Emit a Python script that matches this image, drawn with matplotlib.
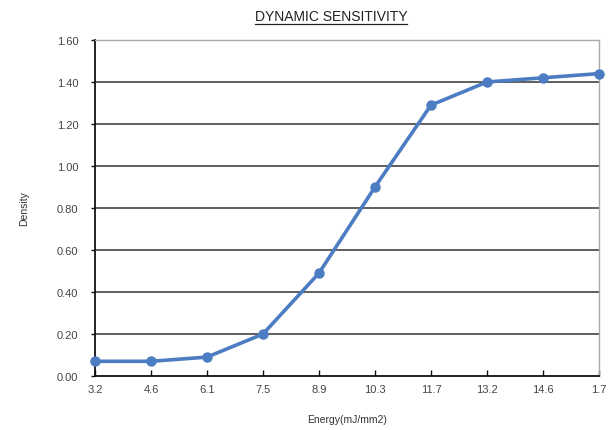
import matplotlib
matplotlib.use("Agg")
import matplotlib.pyplot as plt
from matplotlib.lines import Line2D

categories = ["3.2", "4.6", "6.1", "7.5", "8.9", "10.3", "11.7", "13.2", "14.6", "1.7"]
density = [0.07, 0.07, 0.09, 0.20, 0.49, 0.90, 1.29, 1.40, 1.42, 1.44]
yticks = [0.0, 0.2, 0.4, 0.6, 0.8, 1.0, 1.2, 1.4, 1.6]

plt.rcParams['font.family'] = ['Liberation Sans', 'DejaVu Sans']

fig = plt.figure(figsize=(6.08, 4.31), dpi=100)
ax = fig.add_axes([95/608, 1-377/431, (599-95)/608, (377-41)/431])

x = list(range(len(categories)))
ax.plot(x, density, color='#4c7cc2', lw=2.6, marker='o', ms=6.5, zorder=3, clip_on=False)

ax.set_xlim(0, len(categories)-1)
ax.set_ylim(0, 1.6)
ax.set_yticks(yticks)
ax.set_yticklabels([f"{v:.2f}" for v in yticks])
ax.set_xticks(x)
ax.set_xticklabels(categories)

for v in yticks[1:-1]:
    ax.axhline(v, color='#333333', lw=1.1, zorder=1)

for s in ['top', 'right']:
    ax.spines[s].set_color('#aaaaaa')
    ax.spines[s].set_linewidth(1.0)
for s in ['left', 'bottom']:
    ax.spines[s].set_color('#111111')
    ax.spines[s].set_linewidth(1.3)

ax.tick_params(axis='x', direction='in', length=4, width=1, colors='#111111',
               labelsize=8, labelcolor='#444444', pad=6)
ax.tick_params(axis='y', direction='out', length=3, width=1, colors='#111111',
               labelsize=8, labelcolor='#444444', pad=9)

ax.set_xlabel("Energy(mJ/mm2)", fontsize=7.5, color='#333333', labelpad=14)
ax.set_ylabel("Density", fontsize=7.5, color='#333333', labelpad=20)

t = fig.text(331/608, 1-17/431, "DYNAMIC SENSITIVITY", ha='center', va='center',
             fontsize=10, color='#222222')
fig.canvas.draw()
bb = t.get_window_extent().transformed(fig.transFigure.inverted())
fig.add_artist(Line2D([bb.x0, bb.x1], [bb.y0 - 0.003, bb.y0 - 0.003],
                      transform=fig.transFigure, color='#222222', lw=0.9))

fig.savefig("out.png", dpi=100)
